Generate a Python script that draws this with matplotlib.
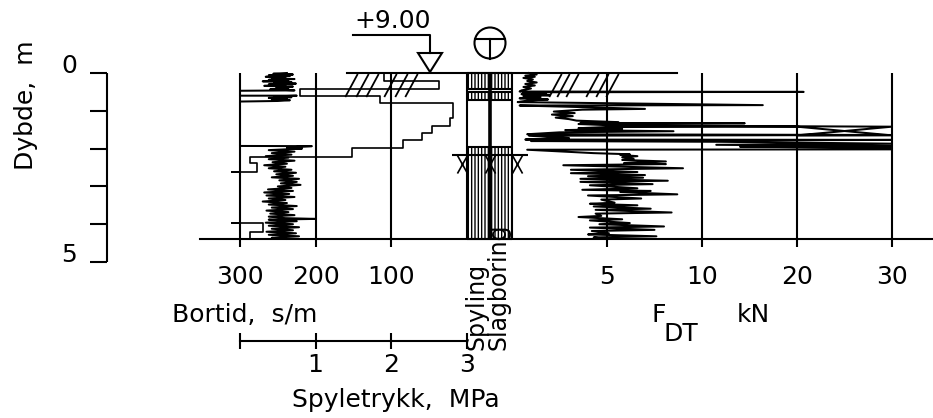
import numpy as np
import matplotlib
matplotlib.use("Agg")
import matplotlib.pyplot as plt
from matplotlib.path import Path
from matplotlib.patches import Circle, Polygon
from matplotlib import transforms

plt.rcParams['font.family'] = ['DejaVu Sans']
plt.rcParams['hatch.linewidth'] = 1.0

# ---------------- sounding data ----------------
depth_ticks = [0, 1, 2, 3, 4, 5]
depth_labels = ['0', '', '', '', '', '5']
bortid_ticks = [300, 200, 100]
fdt_ticks = [5, 10, 20, 30]
pressure_ticks = [0, 1, 2, 3]
pressure_labels = ['', '1', '2', '3']
end_depth = 4.39
ground_level = '+9.00'

# drilling time (s/m) versus depth (m)
bortid_depth = [0.00, 0.02, 0.04, 0.06, 0.08, 0.10, 0.12, 0.14, 0.16, 0.18,
                0.20, 0.22, 0.24, 0.26, 0.28, 0.30, 0.32, 0.34, 0.36, 0.38,
                0.40, 0.43, 0.46, 0.47, 0.60, 0.60, 0.62, 0.64, 0.66, 0.68,
                0.70, 0.72, 0.74, 0.755, 1.93, 1.935, 1.97, 2.00, 2.04, 2.08,
                2.12, 2.16, 2.20, 2.24, 2.28, 2.32, 2.36, 2.40, 2.44, 2.48,
                2.52, 2.56, 2.60, 2.64, 2.68, 2.72, 2.76, 2.80, 2.84, 2.88,
                2.92, 2.96, 3.00, 3.04, 3.08, 3.12, 3.16, 3.20, 3.24, 3.28,
                3.32, 3.36, 3.40, 3.44, 3.48, 3.52, 3.56, 3.60, 3.64, 3.68,
                3.72, 3.76, 3.80, 3.84, 3.86, 3.88, 3.92, 3.96, 4.00, 4.04,
                4.08, 4.12, 4.16, 4.20, 4.24, 4.28, 4.32, 4.36, 4.39]
bortid_s_per_m = [238, 256, 230, 262, 234, 266, 240, 258, 228, 262,
                  236, 270, 232, 255, 226, 262, 240, 268, 230, 252,
                  236, 260, 228, 300, 300, 225, 255, 232, 262, 238,
                  258, 234, 250, 300, 300, 205, 238, 218, 262, 228,
                  258, 232, 266, 236, 262, 228, 257, 238, 268, 240,
                  262, 232, 255, 226, 252, 230, 258, 222, 248, 225,
                  246, 220, 250, 232, 263, 230, 268, 235, 265, 228,
                  262, 240, 270, 238, 262, 225, 258, 230, 265, 236,
                  260, 228, 262, 240, 200, 262, 225, 266, 230, 262,
                  222, 258, 230, 265, 226, 262, 222, 258, 240]

# flushing pressure (MPa): interval boundaries and value within each interval
pressure_depth = [0.00, 0.21, 0.415, 0.60, 0.79, 1.19, 1.40, 1.59, 1.77, 1.98,
                  2.21, 2.38, 2.61, 2.61, 3.98, 3.98, 4.20, 4.39]
pressure_mpa = [1.90, 2.63, 0.79, 1.85, 2.81, 2.77, 2.54, 2.41, 2.15, 1.48,
                0.13, 0.22, -0.11, 0.00, -0.11, 0.30, 0.13]

# push force F_DT (kN) versus depth (m)
fdt_depth = [0.00, 0.04, 0.07, 0.10, 0.13, 0.17, 0.21, 0.25, 0.29, 0.33,
             0.37, 0.41, 0.46, 0.49, 0.50, 0.51, 0.54, 0.56, 0.59, 0.61,
             0.64, 0.67, 0.70, 0.73, 0.77, 0.85, 0.86, 0.90, 0.95, 0.97,
             1.02, 1.06, 1.10, 1.14, 1.18, 1.22, 1.26, 1.30, 1.32, 1.33,
             1.35, 1.39, 1.42, 1.65, 1.65, 1.42, 1.43, 1.46, 1.48, 1.51,
             1.54, 1.57, 1.62, 1.64, 1.66, 1.72, 1.76, 1.77, 1.80, 1.82,
             1.87, 1.90, 1.93, 1.95, 1.98, 2.02, 2.03, 2.12, 2.15, 2.17,
             2.20, 2.23, 2.27, 2.30, 2.34, 2.38, 2.41, 2.44, 2.52, 2.56,
             2.62, 2.65, 2.70, 2.73, 2.77, 2.80, 2.85, 2.88, 2.94, 2.97,
             3.05, 3.09, 3.12, 3.15, 3.21, 3.24, 3.32, 3.35, 3.43, 3.46,
             3.50, 3.53, 3.59, 3.62, 3.69, 3.72, 3.78, 3.81, 3.87, 3.90,
             3.97, 4.00, 4.06, 4.09, 4.15, 4.18, 4.24, 4.27, 4.32, 4.35,
             4.39]
fdt_kn = [0.9, 1.3, 0.7, 1.2, 0.6, 1.1, 0.8, 1.3, 0.7, 1.2,
          0.6, 1.0, 0.5, 0.4, 20.7, 0.6, 1.8, 0.5, 2.0, 0.6,
          1.5, 0.4, 1.9, 0.8, 0.3, 16.4, 0.4, 3.5, 7.0, 3.7,
          2.2, 3.3, 2.1, 3.2, 2.3, 3.0, 3.4, 5.6, 3.6, 14.5,
          3.5, 5.5, 30.0, 20.0, 30.0, 20.0, 5.0, 3.5, 5.8, 2.8,
          8.5, 2.5, 0.8, 30.0, 0.9, 3.0, 0.7, 30.0, 1.0, 12.0,
          30.0, 11.5, 30.0, 14.0, 30.0, 30.0, 0.8, 4.3, 6.2, 5.7,
          6.6, 5.8, 6.4, 5.8, 8.1, 5.9, 8.1, 2.7, 9.0, 3.1,
          6.6, 3.1, 7.0, 4.0, 6.9, 3.6, 8.2, 3.6, 7.4, 4.1,
          6.6, 3.7, 7.3, 5.7, 8.7, 4.0, 6.8, 4.7, 5.4, 4.1,
          6.6, 4.3, 7.3, 4.4, 8.4, 4.4, 4.7, 3.5, 5.8, 4.1,
          6.2, 4.6, 8.0, 4.1, 7.5, 4.2, 5.1, 4.0, 7.6, 4.3,
          5.0]

# flushing / hammering active (depth intervals, m)
flushing_intervals = [(0.0, 0.43), (0.51, 0.72), (1.96, 4.39)]
hammering_intervals = [(0.0, 0.43), (0.51, 0.72), (1.96, 4.39)]
stone_depth = 2.17

# ---------------- layout ----------------
W, H = 933, 418
Y0, PPM = 73.0, 37.8          # pixel row of depth 0, pixels per metre
FS = 18
LW = 1.5
CLW = 1.45

fig = plt.figure(figsize=(W / 100, H / 100), dpi=100, facecolor='white')

ax_px = fig.add_axes([0, 0, 1, 1])
ax_px.set_xlim(0, W)
ax_px.set_ylim(H, 0)
ax_px.axis('off')


def overlay(xlim=None, scale=None):
    ax = fig.add_axes([0, 0, 1, 1])
    if scale is not None:
        ax.set_xscale('function', functions=scale)
    ax.set_xlim(*xlim)
    ax.set_ylim((H - Y0) / PPM, -Y0 / PPM)
    ax.axis('off')
    return ax


def blend(ax):
    # x in the panel's data units, y in pixels
    return transforms.blended_transform_factory(ax.transData, ax_px.transData)


# drilling time axis: 300 s/m at x=240 px, 0 at x=467 px
k_bt = (467 - 240) / 300
ax_bt = overlay((467 / k_bt, -(W - 467) / k_bt))
# flushing pressure axis: 0 MPa at x=240 px, 3 MPa at x=467 px
k_p = (467 - 240) / 3
ax_p = overlay((-240 / k_p, (W - 240) / k_p))


# force axis: linear to 10 kN, half scale from 10 to 30 kN
def fdt_fwd(v):
    v = np.asarray(v, dtype=float)
    return np.where(v <= 10, v, 10 + (v - 10) / 2)


def fdt_inv(u):
    u = np.asarray(u, dtype=float)
    return np.where(u <= 10, u, 10 + 2 * (u - 10))


k_f = (702 - 512) / 10
ax_f = overlay((float(fdt_inv(-512 / k_f)), float(fdt_inv((W - 512) / k_f))),
               scale=(fdt_fwd, fdt_inv))
# flushing / hammering columns: 0..1 and 1..2 between x=467 and 512 px
k_c = (512 - 467) / 2
ax_c = overlay((-467 / k_c, (W - 467) / k_c))

tdepth = transforms.blended_transform_factory(ax_px.transData, ax_bt.transData)

# ---------------- depth axis ----------------
ax_px.plot([107, 107], [depth_ticks[0], depth_ticks[-1]], color='k', lw=LW,
           transform=tdepth, solid_capstyle='butt')
ax_px.hlines(depth_ticks, 90, 107, color='k', lw=LW, transform=tdepth)
for d, lab in zip(depth_ticks, depth_labels):
    if lab:
        ax_px.text(69, d, lab, transform=tdepth, ha='center', va='baseline',
                   fontsize=FS)
ax_px.text(33, 170, 'Dybde,  m', rotation=90, rotation_mode='anchor',
           ha='left', va='baseline', fontsize=FS)

# ---------------- reference lines ----------------
grid_end = (247 - Y0) / PPM
ax_bt.vlines(bortid_ticks, 0, grid_end, color='k', lw=LW)
ax_f.vlines(fdt_ticks, 0, grid_end, color='k', lw=LW)
ax_bt.axhline(0, xmin=347 / W, xmax=677 / W, color='k', lw=LW)
ax_bt.axhline(end_depth, xmin=200 / W, xmax=1.0, color='k', lw=LW)

# ---------------- curves ----------------
ax_bt.plot(bortid_s_per_m, bortid_depth, color='k', lw=CLW)

pd_ = np.asarray(pressure_depth)
p_y = np.column_stack([pd_[:-1], pd_[1:]]).ravel()
p_x = np.repeat(pressure_mpa, 2)
ax_p.plot(p_x, p_y, color='k', lw=1.2)

ax_f.plot(fdt_kn, fdt_depth, color='k', lw=CLW)

# ---------------- flushing / hammering columns ----------------
for col, intervals in enumerate([flushing_intervals, hammering_intervals]):
    for a, b in intervals:
        ax_c.fill_betweenx([a, b], col, col + 1, facecolor='none',
                           edgecolor='k', hatch='|||||', lw=0)
        ax_c.hlines([a, b], col, col + 1, color='k', lw=LW)
ax_c.vlines([0, 2], 0, end_depth, color='k', lw=LW)
ax_c.vlines([1], 0, end_depth, color='k', lw=2.6)

x_mark = Path([(-0.28, -0.5), (0.28, 0.5), (-0.28, 0.5), (0.28, -0.5)],
              [Path.MOVETO, Path.LINETO, Path.MOVETO, Path.LINETO])
ax_c.hlines(stone_depth, -0.67, 2.71, color='k', lw=LW)
ax_c.plot([-0.22, 1.0, 2.22], [stone_depth + 0.24] * 3, ls='none',
          marker=x_mark, markersize=13, mec='k', mew=1.2)

ax_px.text(483, 350, 'Spyling', rotation=90, rotation_mode='anchor',
           ha='left', va='baseline', fontsize=17)
ax_px.text(506, 350, 'Slagboring', rotation=90, rotation_mode='anchor',
           ha='left', va='baseline', fontsize=17)

# ---------------- surface symbols ----------------
slash = Path([(-0.27, -0.5), (0.27, 0.5)], [Path.MOVETO, Path.LINETO])
for xs in ([351, 362, 372, 390, 401, 411], [555, 563, 572, 592, 602, 612]):
    ax_px.plot(xs, [84.5] * len(xs), ls='none', marker=slash,
               markersize=16.6, mec='k', mew=1.3)

ax_px.plot([353, 430, 430], [35, 35, 53], color='k', lw=LW)
ax_px.add_patch(Polygon([(418, 53), (442, 53), (430, 72)], closed=True,
                        fill=False, ec='k', lw=LW))
ax_px.text(431, 28, ground_level, ha='right', va='baseline', fontsize=FS)

ax_px.add_patch(Circle((490, 43), 15.5, fill=False, ec='k', lw=LW))
ax_px.plot([475, 505], [39, 39], color='k', lw=LW)
ax_px.plot([490, 490], [39, 58.5], color='k', lw=LW)

# ---------------- scale labels ----------------
for v in bortid_ticks:
    ax_bt.text(v, 284, str(v), transform=blend(ax_bt), ha='center',
               va='baseline', fontsize=FS)
for v in fdt_ticks:
    ax_f.text(v, 284, str(v), transform=blend(ax_f), ha='center',
              va='baseline', fontsize=FS)
ax_px.text(172, 322, 'Bortid,  s/m', ha='left', va='baseline', fontsize=FS)

ax_p.plot([pressure_ticks[0], pressure_ticks[-1]], [340.7, 340.7], color='k',
          lw=LW, transform=blend(ax_p))
ax_p.vlines(pressure_ticks, 332.5, 349, color='k', lw=LW,
            transform=blend(ax_p))
for v, lab in zip(pressure_ticks, pressure_labels):
    ax_p.text(v, 372, lab, transform=blend(ax_p), ha='center', va='baseline',
              fontsize=FS)
ax_px.text(292, 407, 'Spyletrykk,  MPa', ha='left', va='baseline', fontsize=FS)

ax_px.text(651, 322, 'F', ha='left', va='baseline', fontsize=FS)
ax_px.text(664, 341, 'DT', ha='left', va='baseline', fontsize=FS)
ax_px.text(737, 322, 'kN', ha='left', va='baseline', fontsize=FS)

fig.savefig('out.png', dpi=100, facecolor='white')
